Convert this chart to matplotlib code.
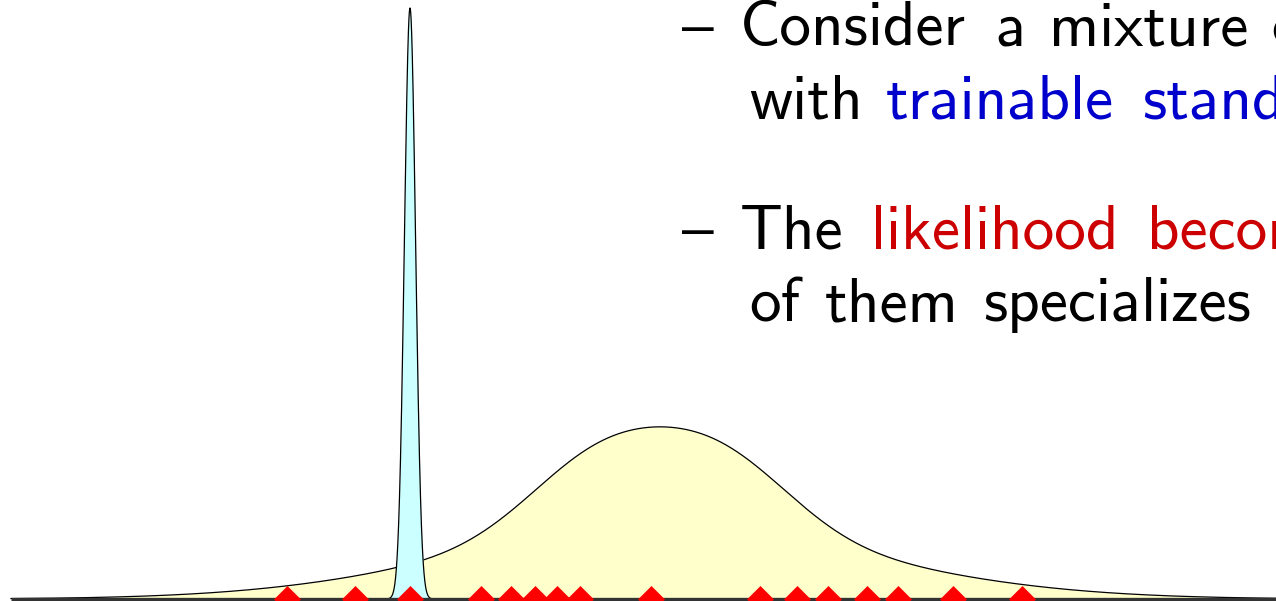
"""Mixture of two Gaussians fitted to a handful of 1-D samples."""

import numpy as np
import matplotlib

matplotlib.use("Agg")
import matplotlib.pyplot as plt

# broad component, built from three bumps (centre, spread, peak height)
wide_means = [-0.60, 0.60, 0.0]
wide_sigmas = [0.72, 0.72, 2.05]
wide_peaks = [73, 73, 69]

# collapsed component sitting on a single sample
narrow_mean = -2.50
narrow_sigma = 0.056
narrow_peak = 591

samples = [-3.73, -3.05, -2.50, -1.79, -1.49, -1.25, -1.03, -0.80,
           -0.09, 1.00, 1.37, 1.68, 2.07, 2.38, 2.93, 3.62]

bullet_lines = [
    # baseline px, [(left px, word, colour), ...]
    (45, [(740, "Consider", "black"), (995, "a", "black"),
          (1049, "mixture", "black"), (1271, "of", "black")]),
    (118, [(749, "with", "black"), (886, "trainable", "#0000cc"),
           (1142, "standard", "#0000cc")]),
    (248, [(740, "The", "black"), (871, "likelihood", "#cc0000"),
           (1147, "becomes", "#cc0000")]),
    (321, [(749, "of", "black"), (825, "them", "black"),
           (983, "specializes", "black")]),
]
dash_rows = [44, 247]


def bumps(x, means, sigmas, peaks):
    y = np.zeros_like(x)
    for m, s, p in zip(means, sigmas, peaks):
        y += p * np.exp(-0.5 * ((x - m) / s) ** 2)
    return y


W, H = 1276, 601
fig = plt.figure(figsize=(W / 100, H / 100), dpi=100)
ax = fig.add_axes([0, 0, 1, 1])
ax.set_xlim(-6.60, 6.16)
ax.set_ylim(-2, 599)
ax.axis("off")

xs = np.linspace(-6.49, 6.16, 3000)
wide = bumps(xs, wide_means, wide_sigmas, wide_peaks)
ax.fill_between(xs, 0, wide, color="#ffffcc", lw=0, zorder=1)
ax.plot(xs, wide, color="black", lw=0.9, zorder=2)

xn = np.linspace(narrow_mean - 0.22, narrow_mean + 0.22, 600)
narrow = bumps(xn, [narrow_mean], [narrow_sigma], [narrow_peak])
ax.fill_between(xn, 0, narrow, color="#ccffff", lw=0, zorder=3)
ax.plot(xn, narrow, color="black", lw=0.9, zorder=4)

ax.plot([-6.49, 6.16], [0, 0], color="#333333", lw=2.4, zorder=5, solid_capstyle="butt")
ax.plot(samples, np.zeros(len(samples)), ls="none", marker="D", ms=13.5,
        color="red", mec="red", mew=0.5, zorder=6)

# bullet text, words placed one by one
size = 45.5
for row in dash_rows:
    fig.text(682 / W, 1 - row / H, "\u2013", fontsize=41, family="Liberation Sans",
             va="baseline", ha="left")
for base, words in bullet_lines:
    for left, word, colour in words:
        fig.text(left / W, 1 - base / H, word, fontsize=size, family="cmss10",
                 color=colour, va="baseline", ha="left")

fig.savefig("out.png", dpi=100)
